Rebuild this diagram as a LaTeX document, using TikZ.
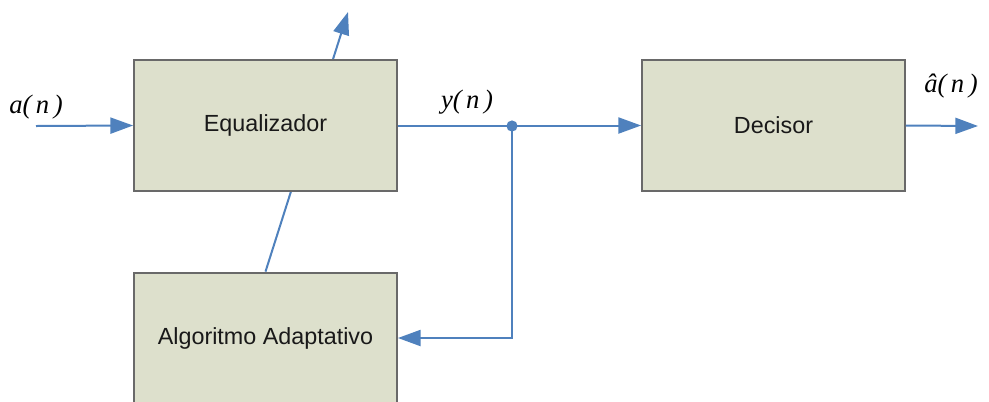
\documentclass[tikz,border=0pt]{standalone}
\usepackage{fontspec}
\setmainfont{Liberation Sans}
\newfontfamily\serifit{Liberation Serif}
\usetikzlibrary{arrows.meta,backgrounds}
\definecolor{boxfill}{RGB}{221,224,204}
\definecolor{boxline}{RGB}{105,105,105}
\definecolor{wire}{RGB}{79,129,189}
\begin{document}
\begin{tikzpicture}[x=0.75pt,y=-0.75pt,
  blockbox/.style={draw=boxline,line width=1.6pt,fill=boxfill,minimum width=197pt,minimum height=98pt,inner sep=0pt,font=\fontsize{17.5}{19}\selectfont,text=black!90},
  wireline/.style={draw=wire,line width=1.5pt},
  wirearrow/.style={wireline,-{Triangle[length=17pt,width=12pt]}},
  siglabel/.style={font=\serifit\itshape\fontsize{20}{21}\selectfont,inner sep=0pt}]
\useasboundingbox (0,0) rectangle (989,401);
\node[blockbox] (eq) at (265.5,125.5) {Equalizador};
\node[blockbox] (dec) at (773.5,125.5) {Decisor};
\node[blockbox] (alg) at (265.5,338) {Algoritmo Adaptativo};
\coordinate (in) at (36,126);
\coordinate (tip) at (348,12);
\coordinate (dot) at (512,126);
\coordinate (out) at (978,126);
\begin{pgfonlayer}{background}
\draw[wirearrow] (alg.north) -- (tip);
\end{pgfonlayer}
\draw[wirearrow] (in) -- (eq.west);
\draw[wirearrow] (eq.east) -- (dec.west);
\draw[wirearrow] (dot) |- (alg.east);
\fill[wire] (dot) circle (4.2pt);
\draw[wirearrow] (dec.east) -- (out);
\node[siglabel] (la) at (36,107) {a(\,n\,)};
\node[siglabel] (ly) at (467,102) {y(\,n\,)};
\node[siglabel] (lah) at (951,86) {\^{a}(\,n\,)};
\end{tikzpicture}
\end{document}
